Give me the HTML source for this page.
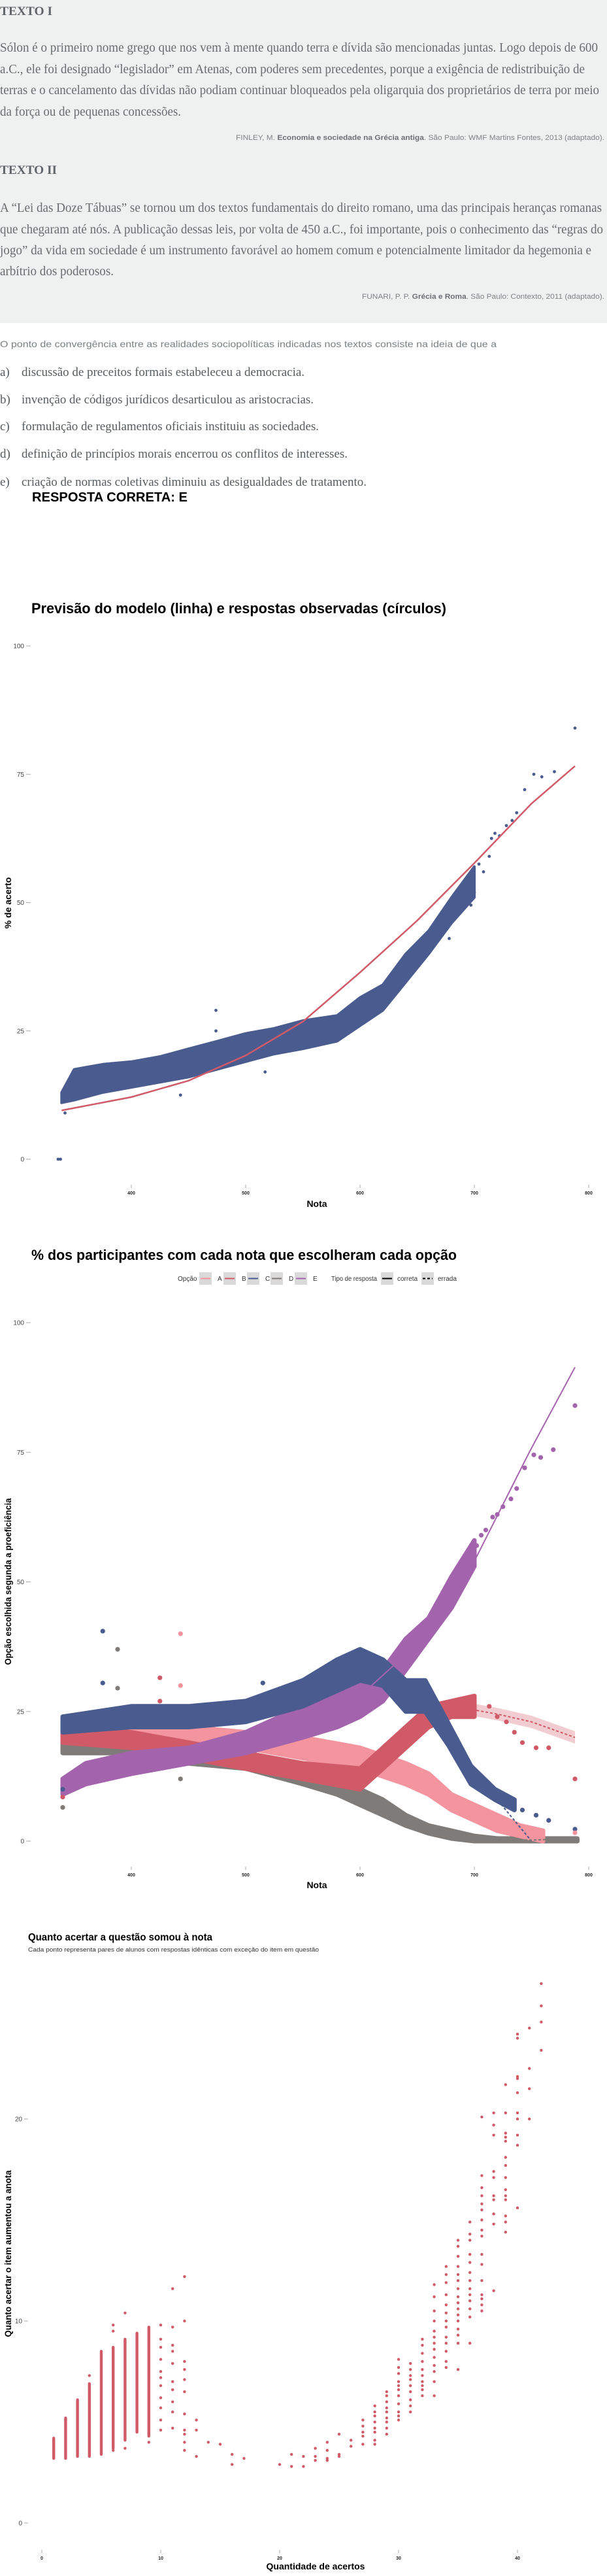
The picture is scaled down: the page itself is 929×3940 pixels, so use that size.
<!DOCTYPE html>
<html><head><meta charset="utf-8"><title>Questão e gráficos</title>
<style>
html,body{margin:0;padding:0;background:#fff;}
svg{display:block;}
.serif{font-family:"Liberation Serif",serif;}
.sans{font-family:"Liberation Sans","DejaVu Sans",sans-serif;}
</style></head>
<body>
<svg id="page" xmlns="http://www.w3.org/2000/svg" width="929" height="3940" viewBox="0 0 929 3940">
<rect x="0" y="0" width="929" height="494" fill="#eff1f0"/>
<g class="serif" fill="#686d70">
<text x="0" y="23" font-size="19" font-weight="bold" textLength="80" lengthAdjust="spacingAndGlyphs" fill="#5f6468">TEXTO I</text>
<text x="0" y="79" font-size="20" textLength="915" lengthAdjust="spacingAndGlyphs">Sólon é o primeiro nome grego que nos vem à mente quando terra e dívida são mencionadas juntas. Logo depois de 600</text>
<text x="0" y="112" font-size="20" textLength="895" lengthAdjust="spacingAndGlyphs">a.C., ele foi designado “legislador” em Atenas, com poderes sem precedentes, porque a exigência de redistribuição de</text>
<text x="0" y="144" font-size="20" textLength="917" lengthAdjust="spacingAndGlyphs">terras e o cancelamento das dívidas não podiam continuar bloqueados pela oligarquia dos proprietários de terra por meio</text>
<text x="0" y="177" font-size="20" textLength="277" lengthAdjust="spacingAndGlyphs">da força ou de pequenas concessões.</text>
<text class="sans" x="361" y="214" font-size="11" textLength="564" lengthAdjust="spacingAndGlyphs" fill="#7d8285">FINLEY, M. <tspan font-weight="bold" fill="#6b7074">Economia e sociedade na Grécia antiga</tspan>. São Paulo: WMF Martins Fontes, 2013 (adaptado).</text>
</g>
<g class="serif" fill="#686d70">
<text x="0" y="266" font-size="19" font-weight="bold" textLength="87" lengthAdjust="spacingAndGlyphs" fill="#5f6468">TEXTO II</text>
<text x="0" y="324" font-size="20" textLength="921" lengthAdjust="spacingAndGlyphs">A “Lei das Doze Tábuas” se tornou um dos textos fundamentais do direito romano, uma das principais heranças romanas</text>
<text x="0" y="357" font-size="20" textLength="923" lengthAdjust="spacingAndGlyphs">que chegaram até nós. A publicação dessas leis, por volta de 450 a.C., foi importante, pois o conhecimento das “regras do</text>
<text x="0" y="389" font-size="20" textLength="905" lengthAdjust="spacingAndGlyphs">jogo” da vida em sociedade é um instrumento favorável ao homem comum e potencialmente limitador da hegemonia e</text>
<text x="0" y="421" font-size="20" textLength="174" lengthAdjust="spacingAndGlyphs">arbítrio dos poderosos.</text>
<text class="sans" x="554" y="457" font-size="11" textLength="371" lengthAdjust="spacingAndGlyphs" fill="#7d8285">FUNARI, P. P. <tspan font-weight="bold" fill="#6b7074">Grécia e Roma</tspan>. São Paulo: Contexto, 2011 (adaptado).</text>
</g>
<g>
<text class="sans" x="0" y="531" font-size="14" textLength="760" lengthAdjust="spacingAndGlyphs" fill="#7b8084">O ponto de convergência entre as realidades sociopolíticas indicadas nos textos consiste na ideia de que a</text>
<g class="serif" fill="#575c60" font-size="19">
<text y="575"><tspan x="0">a)</tspan><tspan x="33" textLength="433" lengthAdjust="spacingAndGlyphs">discussão de preceitos formais estabeleceu a democracia.</tspan></text>
<text y="617"><tspan x="0">b)</tspan><tspan x="33" textLength="447" lengthAdjust="spacingAndGlyphs">invenção de códigos jurídicos desarticulou as aristocracias.</tspan></text>
<text y="658"><tspan x="0">c)</tspan><tspan x="33" textLength="455" lengthAdjust="spacingAndGlyphs">formulação de regulamentos oficiais instituiu as sociedades.</tspan></text>
<text y="700"><tspan x="0">d)</tspan><tspan x="33" textLength="499" lengthAdjust="spacingAndGlyphs">definição de princípios morais encerrou os conflitos de interesses.</tspan></text>
<text y="743"><tspan x="0">e)</tspan><tspan x="33" textLength="528" lengthAdjust="spacingAndGlyphs">criação de normas coletivas diminuiu as desigualdades de tratamento.</tspan></text>
</g>
<text class="sans" x="49" y="767" font-size="20" font-weight="bold" textLength="238" lengthAdjust="spacingAndGlyphs" fill="#000">RESPOSTA CORRETA: E</text>
</g>
<g id="chart1"></g>
<g id="chart2"></g>
<g id="chart3"></g>
</svg>
<script>
// ---------- Chart 1 data ----------
const c1BandNota = [339, 350, 375, 400, 425, 450, 475, 500, 525, 550, 580, 600, 620, 640, 660, 680, 700];
const c1BandLow  = [11, 11.5, 13, 14, 15, 16, 17.5, 19, 20.5, 21.5, 23, 26, 29, 34.5, 40, 46, 51];
const c1BandHigh = [13, 17.5, 18.5, 19, 20, 21.5, 23, 24.5, 25.5, 27, 28, 31.5, 34, 40, 44.5, 51, 57];
const c1PointNota = [336, 338, 342, 474, 474, 443, 517, 678, 697, 700, 704, 708, 713, 715, 718, 722, 728, 733, 737, 744, 752, 759, 770, 788];
const c1PointPct  = [0, 0, 9, 29, 25, 12.5, 17, 43, 49.5, 52, 57.5, 56, 59, 62.5, 63.5, 63, 65, 66, 67.5, 72, 75, 74.5, 75.5, 84];
const c1ModelNota = [339, 400, 450, 500, 550, 600, 650, 700, 750, 788];
const c1ModelPct  = [9.5, 12.1, 15.3, 20.2, 26.8, 36.4, 46.5, 57.7, 69.3, 76.6];
const c1YTicks = [0, 25, 50, 75, 100];
const xTickLabels = [400, 500, 600, 700, 800];

// ---------- Chart 2 data ----------
const c2Options = ["A", "B", "C", "D", "E"];
const c2Colors = ["#f4949f", "#d05a68", "#4a5b8f", "#7f7b78", "#a463ad"];
const c2A_nota = [340, 400, 450, 500, 550, 600, 640, 660, 680, 700, 720, 740, 760];
const c2A_low  = [19, 19, 19, 18, 16, 14, 11, 9, 6, 4, 2, 1, 0];
const c2A_high = [23, 22, 22, 21, 20, 18, 15, 13, 9, 7, 5, 3, 2];
const c2B_nota = [340, 400, 450, 500, 550, 600, 620, 640, 660, 680, 700];
const c2B_low  = [19, 18, 16, 14, 12, 10, 14, 18, 22, 24, 24];
const c2B_high = [22, 21, 19, 17, 15, 14, 18, 22, 26, 27, 28];
const c2C_nota = [340, 400, 450, 500, 550, 580, 600, 620, 640, 657, 677, 697, 718, 735];
const c2C_low  = [21, 22, 22, 23, 26, 29, 31, 30, 25, 25, 18.6, 11, 8, 6];
const c2C_high = [24, 26, 26, 27, 31, 35, 37, 35, 31, 31, 22.8, 14.5, 10, 8];
const c2D_nota = [340, 400, 450, 500, 550, 580, 600, 620, 640, 660, 680, 700, 720, 790];
const c2D_low  = [17, 17, 15, 14, 11, 9, 7, 5, 3, 1.5, 0.5, 0, 0, 0];
const c2D_high = [20, 19, 18, 17, 14, 12, 10, 8, 5, 3, 2, 1, 0.5, 0.5];
const c2E_nota = [340, 360, 400, 450, 500, 550, 580, 600, 620, 640, 660, 680, 700];
const c2E_low  = [9, 11, 13, 15, 17, 20, 22, 24, 27, 33, 39, 45, 53];
const c2E_high = [12, 15, 17, 18, 21, 26, 29, 31, 33, 39, 43, 51, 58];
const c2PointOpt  = ["C","C","C","C","C","C","C","C","A","A","A","B","B","B","B","B","B","B","B","B","B","B","D","D","D","D","E","E","E","E","E","E","E","E","E","E","E","E","E"];
const c2PointNota = [375,375,742,754,765,788,340,515,443,443,788,713,720,728,735,742,754,765,788,425,425,340,388,388,340,443,702,706,710,716,720,725,732,737,744,752,758,769,788];
const c2PointPct  = [40.5,30.5,6,5,4,2.3,10,30.5,40,30,1.6,26,24,23,21,19,18,18,12,31.5,27,8.5,37,29.5,6.5,12,57,59,60,62.5,63,64.5,66,68,72,74.5,74,75.5,84];
const c2E_fitNota = [340, 400, 450, 500, 550, 600, 650, 700, 748, 788];
const c2E_fitPct  = [12, 15, 17, 19.5, 23, 28, 38, 54, 75, 91.4];
const c2B_fitNota = [690, 700, 720, 750, 788];
const c2B_fitPct  = [25.5, 25.3, 24.5, 23, 20];
const c2C_fitNota = [690, 720, 750];
const c2C_fitPct  = [17, 8, 0];
const c2D_fitNota = [700, 750, 790];
const c2D_fitPct  = [0.5, 0.2, 0.5];
const c2A_fitNota = [720, 740, 757];
const c2A_fitPct  = [4, 2, 0];

// ---------- Chart 3 data ----------
const c3DenseAcertos = [1, 2, 3, 4, 5, 6, 7, 8, 9];
const c3DenseMin = [3.2, 3.2, 3.3, 3.3, 3.4, 3.7, 4.1, 4.5, 4.3];
const c3DenseMax = [4.2, 5.2, 6.1, 6.9, 8.5, 8.7, 9.1, 9.4, 9.7];
const c3Acertos = [4,6,6,6,7,7,9,
 10,10,10,10,10,10,10,10,10,10,10,
 11,11,11,11,11,11,11,11,11,11,
 12,12,12,12,12,12,12,12,12,12,12,
 13,13,13,14,15,16,16,17,20,21,21,22,22,23,23,23,24,24,24,24,25,25,25,26,26,
 27,27,27,27,27,
 28,28,28,28,28,28,28,28,
 29,29,29,29,29,29,29,29,29,
 30,30,30,30,30,30,30,30,30,30,30,
 31,31,31,31,31,31,31,31,31,
 32,32,32,32,32,32,32,32,32,32,
 33,33,33,33,33,33,33,33,33,33,33,33,33,
 34,34,34,34,34,34,34,34,34,34,34,34,34,
 35,35,35,35,35,35,35,35,35,35,35,35,35,35,35,35,
 36,36,36,36,36,36,36,36,36,36,36,36,36,
 37,37,37,37,37,37,37,37,37,37,37,37,37,37,37,37,
 38,38,38,38,38,38,38,38,38,38,
 39,39,39,39,39,39,39,39,39,39,39,39,39,39,
 40,40,40,40,40,40,40,40,40,40,
 41,41,41,41,42,42,42,42];
const c3Gain = [7.3,9.5,9.8,3.6,10.4,3.7,4.0,
 9.8,9.1,8.7,8.1,7.5,7.2,6.8,6.2,5.7,5.1,4.6,
 11.6,9.7,8.8,8.5,7.9,7.0,6.6,6.0,5.5,4.7,
 12.2,10,8,7.6,7.1,6.5,5.4,4.6,4.4,4.0,3.6,
 5.1,4.6,3.3,4.0,3.9,3.4,2.9,3.2,2.9,3.4,2.8,3.3,2.8,3.7,3.3,3.1,4.0,3.6,3.2,3.1,4.4,3.4,3.3,4.1,3.8,
 5.1,4.8,4.5,4.3,3.9,
 5.8,5.5,5.3,5.0,4.7,4.5,4.1,3.9,
 6.5,6.3,6.0,5.7,5.5,5.2,5.0,4.7,4.4,
 8.1,7.7,7.4,7.0,6.8,6.6,6.3,5.9,5.5,5.3,5.1,
 7.9,7.6,7.3,7.1,6.8,6.5,6.1,5.8,5.5,
 9.1,8.8,8.4,8.0,7.6,7.3,7.0,6.8,6.6,6.3,
 11.8,11.2,10.5,10.0,9.5,9.2,8.9,8.6,8.2,7.8,7.5,7.0,6.3,
 12.7,12.3,11.9,11.3,10.8,10.4,10.0,9.7,9.2,8.9,8.5,8.0,7.7,
 14.0,13.7,13.2,12.7,12.3,12.0,11.6,11.2,10.9,10.6,10.3,10.0,9.6,9.3,8.9,7.6,
 14.9,14.3,14.0,13.3,12.9,12.4,12.0,11.6,11.3,11.0,10.6,10.2,8.9,
 20.1,17.2,16.6,16.2,15.8,15.5,15.0,14.5,14.2,13.3,12.8,12.0,11.3,11.1,10.8,10.5,
 20.3,19.7,19.2,17.4,17.1,16.2,16.0,15.3,14.8,11.5,
 21.7,20.3,19.3,19.1,18.9,18.1,17.7,17.1,16.5,16.2,16.0,15.2,14.9,14.4,
 24.2,24.0,22.1,22.0,21.3,20.3,20.0,19.2,18.7,15.6,
 24.5,22.5,21.5,20.0,26.7,25.6,24.8,23.4];
const c3YTicks = [0, 10, 20];
const c3XTicks = [0, 10, 20, 30, 40];

// ---------- helpers ----------
const NS = "http://www.w3.org/2000/svg";
function el(tag, attrs, parent) {
  const e = document.createElementNS(NS, tag);
  for (const k in attrs) e.setAttribute(k, attrs[k]);
  parent.appendChild(e);
  return e;
}
const SANS = '"Liberation Sans","DejaVu Sans",sans-serif';
const xNota = v => 201 + (v - 400) * 1.75;

function bandPath(xs, lo, hi, xf, yf) {
  let d = "";
  for (let i = 0; i < xs.length; i++) d += (i ? "L" : "M") + xf(xs[i]).toFixed(1) + "," + yf(hi[i]).toFixed(1);
  for (let i = xs.length - 1; i >= 0; i--) d += "L" + xf(xs[i]).toFixed(1) + "," + yf(lo[i]).toFixed(1);
  return d + "Z";
}
function linePath(xs, ys, xf, yf) {
  let d = "";
  for (let i = 0; i < xs.length; i++) d += (i ? "L" : "M") + xf(xs[i]).toFixed(1) + "," + yf(ys[i]).toFixed(1);
  return d;
}
function yAxis(g, ticks, yf, labelRight, tickX1, tickX2) {
  ticks.forEach(t => {
    const tx = el("text", {x: labelRight, y: yf(t) + 3.5, "font-size": 10, "text-anchor": "end", fill: "#444", "font-family": SANS}, g);
    
    
    tx.textContent = t;
    const ln = el("line", {x1: tickX1, x2: tickX2, y1: yf(t), y2: yf(t), stroke: "#aaa", "stroke-width": 1}, g);
    
    
  });
}
function xAxis(g, ticks, xf, yLabel) {
  ticks.forEach(t => {
    const ln = el("line", {x1: xf(t), x2: xf(t), y1: yLabel - 12, y2: yLabel - 7, stroke: "#aaa", "stroke-width": 1}, g);
    
    
    const tx = el("text", {x: xf(t), y: yLabel + 3, "font-size": 7, "font-weight": "bold", "text-anchor": "middle", fill: "#222", "font-family": SANS}, g);
    
    
    tx.textContent = t;
  });
}
function txt(g, s, attrs, name) {
  const t = el("text", Object.assign({"font-family": SANS, fill: "#000"}, attrs), g);
  
  
  t.textContent = s;
  return t;
}

// ---------- Chart 1 ----------
(function () {
  const g = document.getElementById("chart1");
  const y = v => 1773 - v * 7.85;
  txt(g, "Previsão do modelo (linha) e respostas observadas (círculos)", {x: 48, y: 938, "font-size": 22, "font-weight": "bold", textLength: 635, lengthAdjust: "spacingAndGlyphs"}, "chart-title");
  yAxis(g, c1YTicks, y, 37, 40, 47);
  xAxis(g, xTickLabels, xNota, 1824);
  txt(g, "Nota", {x: 485, y: 1846, "font-size": 14, "font-weight": "bold", "text-anchor": "middle"}, "x-axis-title");
  txt(g, "% de acerto", {x: 0, y: 0, "font-size": 14, "font-weight": "bold", "text-anchor": "middle", transform: "translate(17,1381) rotate(-90)"}, "y-axis-title");
  const band = el("path", {d: bandPath(c1BandNota, c1BandLow, c1BandHigh, xNota, y), fill: "#4a5b8f", stroke: "#4a5b8f", "stroke-width": 4, "stroke-linejoin": "round"}, g);
  
  
  c1PointNota.forEach((n, i) => {
    const c = el("circle", {cx: xNota(n), cy: y(c1PointPct[i]), r: 2.4, fill: "#4a5b8f"}, g);
    
    
  });
  const line = el("path", {d: linePath(c1ModelNota, c1ModelPct, xNota, y), fill: "none", stroke: "#d05a68", "stroke-width": 2.5}, g);
  
  
})();

// ---------- Chart 2 ----------
(function () {
  const g = document.getElementById("chart2");
  const y = v => 2816 - v * 7.93;
  txt(g, "% dos participantes com cada nota que escolheram cada opção", {x: 48, y: 1927, "font-size": 22, "font-weight": "bold", textLength: 651, lengthAdjust: "spacingAndGlyphs"}, "chart-title");
  const lg = el("g", {}, g);
  
  
  txt(lg, "Opção", {x: 272, y: 1959, "font-size": 10, fill: "#333"}, "legend-title-option");
  const boxX = [305, 342, 378, 414, 451];
  c2Options.forEach((o, i) => {
    const b = el("rect", {x: boxX[i], y: 1946, width: 19, height: 19, fill: "#d9d9d9"}, lg);
    
    
    const l = el("line", {x1: boxX[i] + 2, x2: boxX[i] + 17, y1: 1955.5, y2: 1955.5, stroke: c2Colors[i], "stroke-width": 2}, lg);
    
    
    txt(lg, o, {x: boxX[i] + 28, y: 1959, "font-size": 10, fill: "#333"}, "legend-label");
  });
  txt(lg, "Tipo de resposta", {x: 507, y: 1959, "font-size": 10, fill: "#333", textLength: 70, lengthAdjust: "spacingAndGlyphs"}, "legend-title-type");
  [[583, "none", "correta", 608], [645, "4,3", "errada", 670]].forEach(k => {
    const b = el("rect", {x: k[0], y: 1946, width: 19, height: 19, fill: "#d9d9d9"}, lg);
    
    
    const l = el("line", {x1: k[0] + 2, x2: k[0] + 17, y1: 1955.5, y2: 1955.5, stroke: "#000", "stroke-width": 2, "stroke-dasharray": k[1]}, lg);
    
    
    txt(lg, k[2], {x: k[3], y: 1959, "font-size": 10, fill: "#333"}, "legend-label");
  });
  yAxis(g, c1YTicks, y, 37, 40, 47);
  xAxis(g, xTickLabels, xNota, 2867);
  txt(g, "Nota", {x: 485, y: 2888, "font-size": 14, "font-weight": "bold", "text-anchor": "middle"}, "x-axis-title");
  txt(g, "Opção escolhida segunda a proeficiência", {x: 0, y: 0, "font-size": 14, "font-weight": "bold", "text-anchor": "middle", transform: "translate(17,2419) rotate(-90)", textLength: 255, lengthAdjust: "spacingAndGlyphs"}, "y-axis-title");
  const bands = {
    D: [c2D_nota, c2D_low, c2D_high], A: [c2A_nota, c2A_low, c2A_high], B: [c2B_nota, c2B_low, c2B_high],
    E: [c2E_nota, c2E_low, c2E_high], C: [c2C_nota, c2C_low, c2C_high]
  };
  const rib = el("path", {d: bandPath(c2B_fitNota, c2B_fitPct.map(v => v - 1.2), c2B_fitPct.map(v => v + 1.2), xNota, y), fill: "#d05a68", opacity: 0.3}, g);
  
  
  ["D", "A", "B", "E", "C"].forEach(o => {
    const col = c2Colors[c2Options.indexOf(o)];
    const p = el("path", {d: bandPath(bands[o][0], bands[o][1], bands[o][2], xNota, y), fill: col, stroke: col, "stroke-width": 7, "stroke-linejoin": "round"}, g);
    
    
  });
  c2PointNota.forEach((n, i) => {
    const c = el("circle", {cx: xNota(n), cy: y(c2PointPct[i]), r: 3.6, fill: c2Colors[c2Options.indexOf(c2PointOpt[i])]}, g);
    
    
  });
  const fits = [["A", c2A_fitNota, c2A_fitPct, "4,3"], ["B", c2B_fitNota, c2B_fitPct, "4,3"], ["C", c2C_fitNota, c2C_fitPct, "4,3"], ["D", c2D_fitNota, c2D_fitPct, "4,3"], ["E", c2E_fitNota, c2E_fitPct, "none"]];
  fits.forEach(f => {
    const l = el("path", {d: linePath(f[1], f[2], xNota, y), fill: "none", stroke: c2Colors[c2Options.indexOf(f[0])], "stroke-width": 2, "stroke-dasharray": f[3]}, g);
    
    
  });
})();

// ---------- Chart 3 ----------
(function () {
  const g = document.getElementById("chart3");
  const x = v => 64 + v * 18.2;
  const y = v => 3859 - v * 30.9;
  txt(g, "Quanto acertar a questão somou à nota", {x: 43, y: 2968, "font-size": 16, "font-weight": "bold", textLength: 282, lengthAdjust: "spacingAndGlyphs"}, "chart-title");
  txt(g, "Cada ponto representa pares de alunos com respostas idênticas com exceção do item em questão", {x: 43, y: 2985, "font-size": 9, fill: "#333", textLength: 445, lengthAdjust: "spacingAndGlyphs"}, "chart-subtitle");
  yAxis(g, c3YTicks, y, 34, 37, 43);
  xAxis(g, c3XTicks, x, 3912);
  txt(g, "Quantidade de acertos", {x: 483, y: 3930, "font-size": 14, "font-weight": "bold", "text-anchor": "middle"}, "x-axis-title");
  txt(g, "Quanto acertar o item aumentou a anota", {x: 0, y: 0, "font-size": 14, "font-weight": "bold", "text-anchor": "middle", transform: "translate(17,3447) rotate(-90)", textLength: 255, lengthAdjust: "spacingAndGlyphs"}, "y-axis-title");
  c3DenseAcertos.forEach((a, i) => {
    const r = el("rect", {x: x(a) - 2.2, y: y(c3DenseMax[i]) - 2.2, width: 4.4, height: y(c3DenseMin[i]) - y(c3DenseMax[i]) + 4.4, rx: 2.2, fill: "#d05a68"}, g);
    
    
  });
  c3Acertos.forEach((a, i) => {
    const c = el("circle", {cx: x(a), cy: y(c3Gain[i]), r: 2.2, fill: "#d05a68"}, g);
    
    
  });
})();
</script>
</body></html>
